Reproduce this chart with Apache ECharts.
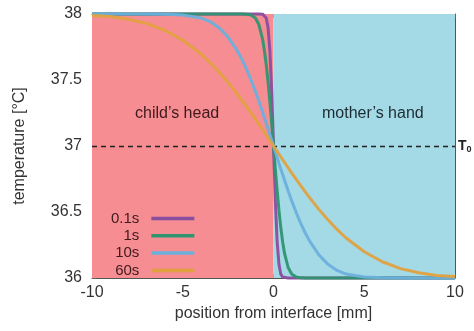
<!DOCTYPE html>
<html>
<head>
<meta charset="utf-8">
<script src="https://cdn.jsdelivr.net/npm/echarts@6/dist/echarts.min.js"></script>
<style>html,body{margin:0;padding:0;background:#fff}#c{width:474px;height:331px}</style>
</head>
<body>
<div id="c"></div>
<script>
// position from interface [mm]
const xs = [-10,-9,-8,-7,-6,-5,-4,-3.5,-3,-2.5,-2,-1.75,-1.5,-1.25,-1,-0.8,-0.6,-0.5,-0.4,-0.3,-0.2,-0.1,0,
  0.1,0.2,0.3,0.4,0.5,0.6,0.8,1,1.25,1.5,1.75,2,2.5,3,3.5,4,5,6,7,8,9,10];
// temperature [°C] for each time
const t01s = [38,38,38,38,38,38,38,38,38,38,38,38,38,38,38,38,37.999,37.993,37.970,37.896,37.722,37.414,37,
  36.586,36.278,36.104,36.030,36.007,36.001,36,36,36,36,36,36,36,36,36,36,36,36,36,36,36,36];
const t1s = [38,38,38,38,38,38,38,38,38,38,38,38,37.999,37.993,37.970,37.918,37.808,37.722,37.616,37.486,37.337,37.172,37,
  36.828,36.663,36.514,36.384,36.278,36.192,36.082,36.030,36.007,36.001,36,36,36,36,36,36,36,36,36,36,36,36];
const t10s = [38,38,38,38,37.999,37.993,37.970,37.943,37.896,37.825,37.722,37.659,37.586,37.504,37.414,37.337,37.256,37.214,37.172,37.130,37.087,37.043,37,
  36.957,36.913,36.870,36.828,36.786,36.744,36.663,36.586,36.496,36.414,36.341,36.278,36.175,36.104,36.057,36.030,36.007,36.001,36,36,36,36];
const t60s = [37.989,37.981,37.960,37.929,37.877,37.801,37.697,37.632,37.559,37.480,37.393,37.347,37.300,37.252,37.203,37.163,37.123,37.102,37.082,37.061,37.041,37.021,37,
  36.979,36.959,36.939,36.918,36.898,36.877,36.837,36.797,36.748,36.700,36.653,36.607,36.520,36.441,36.368,36.303,36.199,36.123,36.071,36.040,36.019,36.011];
const seriesNames = ['0.1s','1s','10s','60s'];
const seriesColors = ['#8b4d9e','#2f9470','#6cb0dc','#e2a140'];
const xTicks = [-10,-5,0,5,10];
const yTicks = [36,36.5,37,37.5,38];
const T0 = 37;

const FONT = '"Liberation Sans", Arial, sans-serif';
const allData = [t01s, t1s, t10s, t60s];
const chart = echarts.init(document.getElementById('c'), null, {renderer: 'canvas'});

const lineSeries = seriesNames.map((n, i) => ({
  name: n,
  type: 'line',
  data: xs.map((x, j) => [x, allData[i][j]]),
  showSymbol: false,
  symbol: 'none',
  clip: false,
  smooth: false,
  z: 3 + i,
  lineStyle: {color: seriesColors[i], width: 3, opacity: 0.95},
  itemStyle: {color: seriesColors[i]}
}));

const bgSeries = {
  name: 'bg',
  type: 'line',
  data: [],
  z: 1,
  silent: true,
  markArea: {
    silent: true,
    itemStyle: {opacity: 1},
    data: [
      [{xAxis: -10, yAxis: 36, itemStyle: {color: '#f58d92'}}, {xAxis: 0, yAxis: 38}],
      [{xAxis: 0, yAxis: 36, itemStyle: {color: '#a4d9e6'}}, {xAxis: 10, yAxis: 38}]
    ]
  },
  markLine: {
    silent: true,
    symbol: 'none',
    lineStyle: {color: '#222', type: [5, 4], width: 1.4},
    label: {
      show: true, position: 'end', distance: 3,
      formatter: '{t|T}{s|0}',
      rich: {
        t: {fontFamily: FONT, fontSize: 14, fontWeight: 'bold', color: '#222'},
        s: {fontFamily: FONT, fontSize: 9, fontWeight: 'bold', color: '#222', verticalAlign: 'bottom', padding: [7, 0, 0, 0]}
      }
    },
    data: [{yAxis: T0}]
  }
};

const axisCommon = {
  type: 'value',
  splitLine: {show: false},
  axisLine: {show: true, onZero: false, lineStyle: {color: '#555', width: 1}},
  axisTick: {show: true, inside: true, length: 4, lineStyle: {color: '#666'}}
};

chart.setOption({
  backgroundColor: '#fff',
  animation: false,
  textStyle: {fontFamily: FONT},
  grid: {left: 92, right: 19, top: 14, bottom: 53},
  xAxis: [
    Object.assign({}, axisCommon, {
      min: -10, max: 10, interval: 5, position: 'bottom',
      name: 'position from interface [mm]', nameLocation: 'middle', nameGap: 25,
      nameTextStyle: {fontFamily: FONT, fontSize: 16, color: '#333'},
      axisLabel: {fontFamily: FONT, fontSize: 16, color: '#333', margin: 7,
        customValues: xTicks, formatter: v => String(v)}
    }),
    Object.assign({}, axisCommon, {min: -10, max: 10, interval: 5, position: 'top', axisLabel: {show: false}})
  ],
  yAxis: [
    Object.assign({}, axisCommon, {
      min: 36, max: 38, interval: 0.5, position: 'left',
      name: 'temperature [°C]', nameLocation: 'middle', nameGap: 64, nameRotate: 90,
      nameTextStyle: {fontFamily: FONT, fontSize: 16, color: '#333'},
      axisLabel: {fontFamily: FONT, fontSize: 16, color: '#333', margin: 10,
        customValues: yTicks, formatter: v => String(v)}
    }),
    Object.assign({}, axisCommon, {min: 36, max: 38, interval: 0.5, position: 'right', axisLabel: {show: false}})
  ],
  legend: {
    data: seriesNames,
    orient: 'vertical',
    left: 106, top: 206,
    align: 'right',
    icon: 'rect',
    itemWidth: 43, itemHeight: 3.5, itemGap: 2.3,
    selectedMode: false,
    formatter: '{a|{name}}',
    textStyle: {
      rich: {a: {fontFamily: FONT, fontSize: 15, color: '#3e1a1d', lineHeight: 14, padding: [0, 7, 0, 0]}}
    }
  },
  graphic: [
    {type: 'text', z: 20, x: 135, y: 106, style: {text: "child’s head", fontFamily: FONT, fontSize: 16, fill: '#3e1a1d'}},
    {type: 'text', z: 20, x: 322, y: 106, style: {text: "mother’s hand", fontFamily: FONT, fontSize: 16, fill: '#1c2c33'}}
  ],
  series: [bgSeries].concat(lineSeries)
});
</script>
</body>
</html>
